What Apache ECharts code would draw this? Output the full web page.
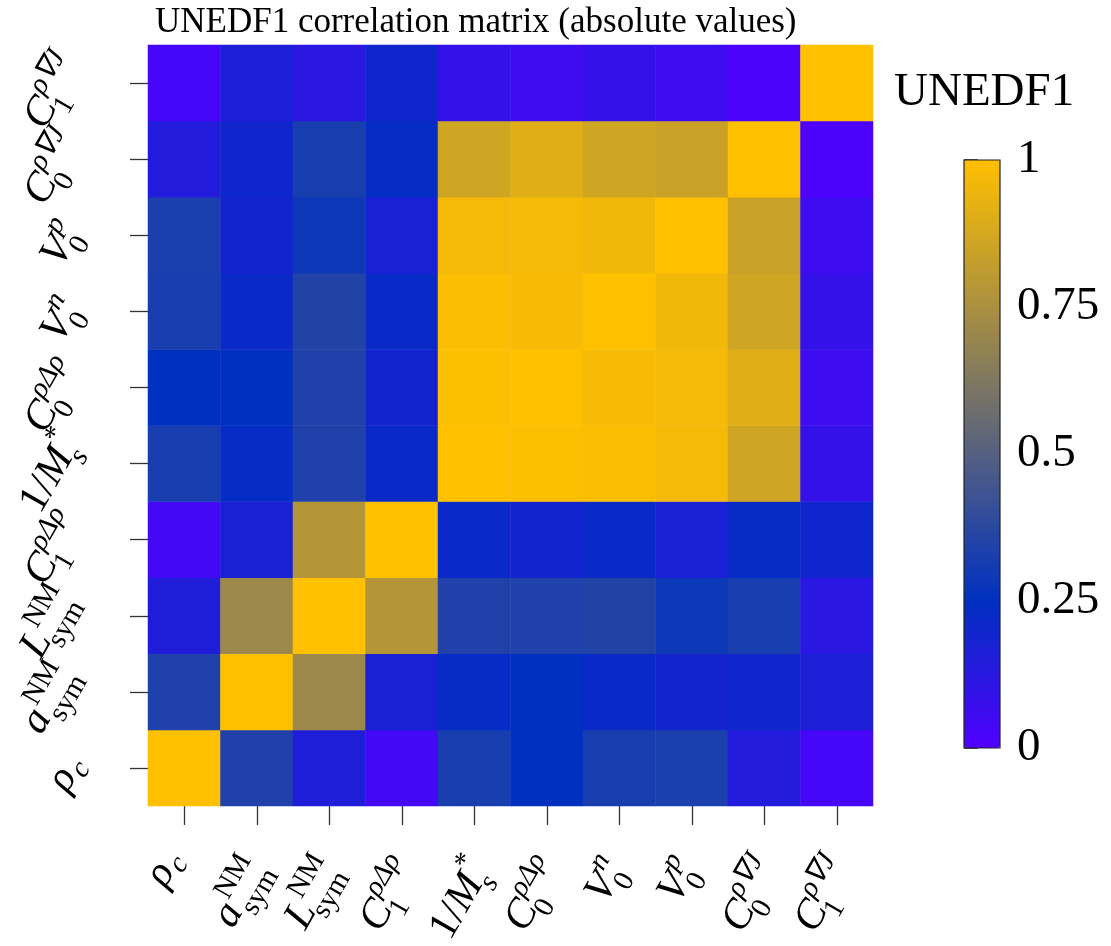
<!DOCTYPE html>
<html><head><meta charset="utf-8">
<script src="https://cdn.jsdelivr.net/npm/echarts@6/dist/echarts.min.js"></script>
<style>html,body{margin:0;padding:0;background:#fff}#c{width:1111px;height:946px}</style>
</head><body><div id="c"></div>
<script>
// ---------- data ----------
const categories = ['rho_c','a_sym_NM','L_sym_NM','C1_rhoDeltarho','1/M_s*','C0_rhoDeltarho','V0_n','V0_p','C0_rhoNablaJ','C1_rhoNablaJ'];
// math label pieces: prefix (upright), italic base, superscript, subscript
const labelPre  = ['', '', '', '', '1/', '', '', '', '', ''];
const labelBase = ['ρ', 'a', 'L', 'C', 'M', 'C', 'V', 'V', 'C', 'C'];
const labelSup  = ['', 'NM', 'NM', 'ρΔρ', '*', 'ρΔρ', 'n', 'p', 'ρ∇J', 'ρ∇J'];
const labelSub  = ['c', 'sym', 'sym', '1', 's', '0', '0', '0', '0', '1'];
// |correlation| rows, row k = parameter k (bottom to top), columns in same order
const row0 = [1.00, 0.34, 0.15, 0.04, 0.32, 0.25, 0.32, 0.33, 0.14, 0.03];
const row1 = [0.34, 1.00, 0.71, 0.17, 0.23, 0.25, 0.22, 0.19, 0.20, 0.16];
const row2 = [0.15, 0.71, 1.00, 0.78, 0.34, 0.34, 0.35, 0.285, 0.32, 0.12];
const row3 = [0.04, 0.17, 0.78, 1.00, 0.22, 0.19, 0.22, 0.17, 0.23, 0.20];
const row4 = [0.32, 0.23, 0.34, 0.22, 1.00, 0.995, 0.99, 0.97, 0.86, 0.09];
const row5 = [0.25, 0.25, 0.34, 0.19, 0.995, 1.00, 0.975, 0.97, 0.91, 0.06];
const row6 = [0.32, 0.22, 0.35, 0.22, 0.99, 0.975, 1.00, 0.96, 0.86, 0.09];
const row7 = [0.33, 0.19, 0.285, 0.17, 0.97, 0.97, 0.96, 1.00, 0.84, 0.06];
const row8 = [0.14, 0.20, 0.32, 0.23, 0.86, 0.91, 0.86, 0.84, 1.00, 0.01];
const row9 = [0.03, 0.16, 0.12, 0.20, 0.09, 0.06, 0.09, 0.06, 0.01, 1.00];
const colorbarTicks = [0, 0.25, 0.5, 0.75, 1];
const titleText = 'UNEDF1 correlation matrix (absolute values)';
const modelName = 'UNEDF1';

const rows = [row0,row1,row2,row3,row4,row5,row6,row7,row8,row9];
const heatData = [];
rows.forEach((r, yi) => r.forEach((v, xi) => heatData.push([xi, yi, v])));

const FAM = "'Liberation Serif', 'Times New Roman', serif";

const option = {
  animation: false,
  backgroundColor: '#fff',
  title: [
    { text: titleText, left: 150, top: 0,
      textStyle: { fontFamily: FAM, fontSize: 35, fontWeight: 'normal', color: '#000' } },
    { text: modelName, left: 889, top: 64,
      textStyle: { fontFamily: FAM, fontSize: 47, fontWeight: 'normal', color: '#000' } }
  ],
  grid: [
    { left: 148, top: 45, width: 725, height: 761, show: false },
    { left: 964, top: 160, width: 36, height: 588, show: false }
  ],
  xAxis: [
    { type: 'category', data: categories, gridIndex: 0,
      axisLine: { show: false },
      axisTick: { show: true, interval: 0, alignWithLabel: true, length: 19, lineStyle: { color: '#333', width: 1.3 } },
      axisLabel: { show: false, interval: 0 }, splitLine: { show: false } },
    { type: 'value', gridIndex: 1, show: false, min: 0, max: 1 }
  ],
  yAxis: [
    { type: 'category', data: categories, gridIndex: 0,
      axisLine: { show: false },
      axisTick: { show: true, interval: 0, alignWithLabel: true, length: 18, lineStyle: { color: '#333', width: 1.3 } },
      axisLabel: { show: false, interval: 0 }, splitLine: { show: false } },
    { type: 'value', gridIndex: 1, position: 'right', min: colorbarTicks[0], max: colorbarTicks[colorbarTicks.length-1],
      interval: 0.25,
      axisLine: { show: false },
      axisTick: { show: true, length: 14, lineStyle: { color: '#222', width: 1.5 } },
      axisLabel: { show: true, margin: 17, fontFamily: FAM, fontSize: 47, color: '#000' },
      splitLine: { show: false } }
  ],
  visualMap: {
    type: 'continuous', min: 0, max: 1, seriesIndex: 0,
    left: 964, top: 160, itemWidth: 36, itemHeight: 588, padding: 0,
    calculable: false, hoverLink: false,
    inRange: { color: ['#5000ff', '#0030c0', '#556080', '#aa9040', '#ffc000'] }
  },
  series: [{
    type: 'heatmap', xAxisIndex: 0, yAxisIndex: 0, data: heatData,
    itemStyle: { borderWidth: 0 }, emphasis: { disabled: true }
  }]
};

const chart = echarts.init(document.getElementById('c'), null, { renderer: 'canvas' });
chart.setOption(option);

// ---------- math-style rotated tick labels ----------
const mctx = document.createElement('canvas').getContext('2d');
function tw(t, font) { mctx.font = font; return mctx.measureText(t).width; }
const BS = 42, SS = 29;
const ANG = 60 * Math.PI / 180;
const MID = 0.34;

function labelSpec(i) {
  const pre = labelPre[i], base = labelBase[i], sup = labelSup[i], sub = labelSub[i];
  const fPre = `${BS}px ${FAM}`;
  const fBase = `italic ${BS}px ${FAM}`;
  const supIt = !(sup === 'NM' || sup === '*');
  const subIt = (sub === 'c' || sub === 's');
  const fSup = `${supIt ? 'italic ' : ''}${SS}px ${FAM}`;
  const fSub = `${subIt ? 'italic ' : ''}${SS}px ${FAM}`;
  const wPre = pre ? tw(pre, fPre) : 0;
  const wB = tw(base, fBase);
  const xAfter = wPre + wB;
  const supX = xAfter + 2;
  const subX = xAfter - (base === 'ρ' || base === 'a' ? -1 : 3);
  const supBL = -0.47 * BS;
  const subBL = sup ? 0.28 * BS : 0.16 * BS;
  const els = [];
  const mk = (text, font, size, x, bl) => els.push({
    type: 'text', x: x, y: bl - MID * size, silent: true,
    style: { text: text, font: font, fill: '#000', align: 'left', verticalAlign: 'middle',
             textAlign: 'left', textVerticalAlign: 'middle' }
  });
  if (pre) mk(pre, fPre, BS, 0, 0);
  mk(base, fBase, BS, wPre, 0);
  let W = xAfter;
  if (sup) { mk(sup, fSup, SS, supX, supBL); W = Math.max(W, supX + tw(sup, fSup)); }
  if (sub) { mk(sub, fSub, SS, subX, subBL); W = Math.max(W, subX + tw(sub, fSub)); }
  const ascBase = (base === 'ρ' || base === 'a') ? 0.46 * BS : 0.66 * BS;
  let top = -ascBase;
  if (sup) top = Math.min(top, supBL - 0.64 * SS);
  let bottom = base === 'ρ' ? 0.22 * BS : 0;
  if (sub) bottom = Math.max(bottom, subBL + (sub === 'sym' ? 0.22 * SS : 0));
  // rotated bounding box
  const c = Math.cos(ANG), s = Math.sin(ANG);
  const pts = [[0, top], [W, top], [0, bottom], [W, bottom]].map(([x, y]) => [x * c + y * s, -x * s + y * c]);
  const xs = pts.map(p => p[0]), ys = pts.map(p => p[1]);
  return { els, minX: Math.min(...xs), maxX: Math.max(...xs), minY: Math.min(...ys), maxY: Math.max(...ys) };
}

const xc0 = chart.convertToPixel({ xAxisIndex: 0 }, categories[0]);
const xc1 = chart.convertToPixel({ xAxisIndex: 0 }, categories[1]);
const yc0 = chart.convertToPixel({ yAxisIndex: 0 }, categories[0]);
const yc1 = chart.convertToPixel({ yAxisIndex: 0 }, categories[1]);
const gridLeft = xc0 - (xc1 - xc0) / 2;
const gridBottom = yc0 + (yc0 - yc1) / 2;

const graphics = [];
categories.forEach((cat, i) => {
  const tx = chart.convertToPixel({ xAxisIndex: 0 }, cat);
  const ty = chart.convertToPixel({ yAxisIndex: 0 }, cat);
  const a = labelSpec(i);
  graphics.push({ type: 'group', rotation: ANG,
    x: tx - 12 - (a.minX + a.maxX) / 2, y: gridBottom + 45 - a.minY, children: a.els });
  const b = labelSpec(i);
  graphics.push({ type: 'group', rotation: ANG,
    x: gridLeft - 53 - b.maxX, y: ty + 10 - (b.minY + b.maxY) / 2, children: b.els });
});
// colorbar frame
graphics.push({ type: 'rect', z: 100, silent: true,
  shape: { x: 964, y: 160, width: 36, height: 588 },
  style: { fill: 'transparent', stroke: '#222', lineWidth: 1.2 } });

chart.setOption({ graphic: graphics });
</script></body></html>
